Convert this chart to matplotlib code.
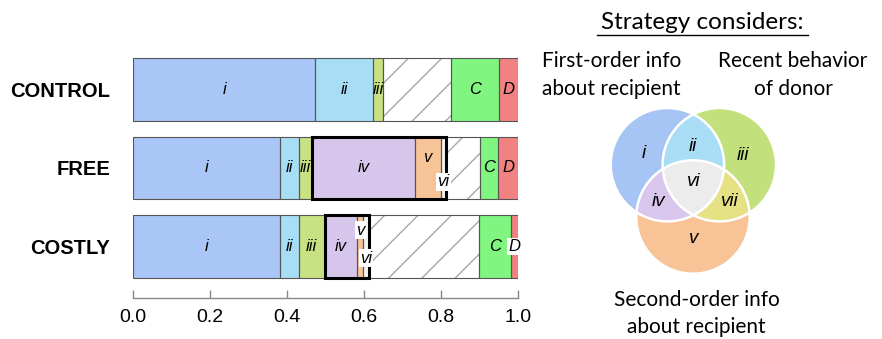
import numpy as np
import matplotlib
matplotlib.use("Agg")
import matplotlib.pyplot as plt
from matplotlib.patches import Circle, Polygon

# ---------------- data ----------------
categories = ["CONTROL", "FREE", "COSTLY"]
segments = ["i", "ii", "iii", "iv", "v", "vi", "unclassified", "C", "D"]
control_vals = [0.474, 0.149, 0.026, 0.0, 0.0, 0.0, 0.176, 0.125, 0.050]
free_vals = [0.383, 0.048, 0.035, 0.266, 0.067, 0.015, 0.087, 0.047, 0.052]
costly_vals = [0.383, 0.048, 0.067, 0.085, 0.014, 0.016, 0.286, 0.084, 0.017]
values = [control_vals, free_vals, costly_vals]
xticks = [0.0, 0.2, 0.4, 0.6, 0.8, 1.0]

seg_colors = {
    "i": "#A9C6F7", "ii": "#A8DDF6", "iii": "#C8E283", "iv": "#D7C6EC",
    "v": "#F7C497", "vi": "#F4F4F4", "unclassified": "white",
    "C": "#80F57F", "D": "#F28282",
}
# label placement tweaks: (dy, white box)
label_tweaks = {
    ("FREE", "v"): (-0.13, False),
    ("FREE", "vi"): (0.175, True),
    ("COSTLY", "v"): (-0.21, True),
    ("COSTLY", "vi"): (0.15, True),
    ("COSTLY", "D"): (0.0, True),
}

W, H = 882, 339
fig = plt.figure(figsize=(W / 100, H / 100), dpi=100)
ax = fig.add_axes([133 / W, 1 - 298 / H, (518 - 133) / W, (298 - 50) / H])

bar_h = 0.80
edge = "#555555"
for yi, (cat, vals) in enumerate(zip(categories, values)):
    left = 0.0
    for seg, v in zip(segments, vals):
        if v <= 0:
            continue
        if seg == "unclassified":
            ax.barh(yi, v, left=left, height=bar_h, color="white",
                    hatch="/", edgecolor="#a8a8a8", linewidth=0, zorder=2)
        else:
            ax.barh(yi, v, left=left, height=bar_h, color=seg_colors[seg],
                    linewidth=0, zorder=2)
        ax.barh(yi, v, left=left, height=bar_h, fill=False,
                edgecolor=edge, linewidth=0.8, zorder=3)
        if seg != "unclassified":
            dy, box = label_tweaks.get((cat, seg), (0.0, False))
            kw = {}
            if box:
                kw["bbox"] = dict(boxstyle="square,pad=0.08", fc="white", ec="none")
            ax.text(left + v / 2, yi + dy, seg, ha="center", va="center",
                    fontsize=12, style="italic", family="Liberation Sans",
                    zorder=5, **kw)
        left += v
    # bold box around iv+v+vi
    start = sum(vals[:3])
    width = sum(vals[3:6])
    if width > 0:
        ax.barh(yi, width, left=start, height=bar_h, fill=False,
                edgecolor="black", linewidth=2.2, zorder=4)

ax.set_xlim(0, 1)
ax.set_ylim(2.656, -0.503)
ax.set_yticks(range(len(categories)))
ax.set_yticklabels(categories, fontsize=14.5, fontweight="bold",
                   family="Liberation Sans")
ax.tick_params(axis="y", length=0, pad=16.5)
ax.set_xticks(xticks)
ax.set_xticklabels([f"{t:.1f}" for t in xticks], fontsize=14,
                   family="Liberation Sans")
ax.tick_params(axis="x", direction="in", length=6, color="#888888",
               width=1.0, pad=8)
for s in ["top", "left", "right"]:
    ax.spines[s].set_visible(False)
ax.spines["bottom"].set_color("#888888")
ax.spines["bottom"].set_linewidth(1.0)
ax.patch.set_alpha(0)

# ---------------- Venn diagram ----------------
ov = fig.add_axes([0, 0, 1, 1], zorder=10)
ov.set_xlim(0, W)
ov.set_ylim(H, 0)
ov.axis("off")
ov.patch.set_alpha(0)

r = 56.7
cA = (667.4, 164.7)
cB = (719.3, 164.7)
cC = (693.0, 217.0)


def region(cs):
    th = np.linspace(0, 2 * np.pi, 1440, endpoint=False)
    pts = []
    for cx, cy in cs:
        p = np.c_[cx + r * np.cos(th), cy + r * np.sin(th)]
        m = np.ones(len(p), bool)
        for ox, oy in cs:
            m &= (p[:, 0] - ox) ** 2 + (p[:, 1] - oy) ** 2 <= r * r + 1e-6
        pts.append(p[m])
    pts = np.vstack(pts)
    c = pts.mean(axis=0)
    ang = np.arctan2(pts[:, 1] - c[1], pts[:, 0] - c[0])
    return pts[np.argsort(ang)]


ov.add_patch(Circle(cA, r, fc="#A6C4F4", ec="none"))
ov.add_patch(Circle(cB, r, fc="#C2E17C", ec="none"))
ov.add_patch(Circle(cC, r, fc="#F7C397", ec="none"))
ov.add_patch(Polygon(region([cA, cB]), fc="#A9DDF5", ec="none"))
ov.add_patch(Polygon(region([cA, cC]), fc="#D8C6EC", ec="none"))
ov.add_patch(Polygon(region([cB, cC]), fc="#E6E185", ec="none"))
ov.add_patch(Polygon(region([cA, cB, cC]), fc="#ECECEC", ec="none"))
for c in (cA, cB, cC):
    ov.add_patch(Circle(c, r, fc="none", ec="white", lw=1.8))

venn_labels = [("i", 643.3, 153.3), ("ii", 693.3, 146.7), ("iii", 743.3, 155),
               ("vi", 693.3, 181.7), ("iv", 658.3, 201.7), ("vii", 730, 201.7),
               ("v", 693.3, 238.3)]
for t, x, y in venn_labels:
    ov.text(x, y, t, ha="center", va="center", fontsize=13.5, style="italic",
            family="Liberation Sans")

tf = "Lato"
fs = 15
ov.text(702.5, 29.3, "Strategy considers:", ha="center", va="baseline",
        fontsize=17.5, family=tf)
ov.plot([597, 808], [35, 35], color="black", lw=1.0)
ov.text(611.7, 67, "First-order info", ha="center", va="baseline", fontsize=fs, family=tf)
ov.text(611.7, 95, "about recipient", ha="center", va="baseline", fontsize=fs, family=tf)
ov.text(793, 67, "Recent behavior", ha="center", va="baseline", fontsize=fs, family=tf)
ov.text(793, 95, "of donor", ha="center", va="baseline", fontsize=fs, family=tf)
ov.text(696.7, 306, "Second-order info", ha="center", va="baseline", fontsize=fs, family=tf)
ov.text(696.7, 333, "about recipient", ha="center", va="baseline", fontsize=fs, family=tf)

fig.savefig("out.png", dpi=100)
